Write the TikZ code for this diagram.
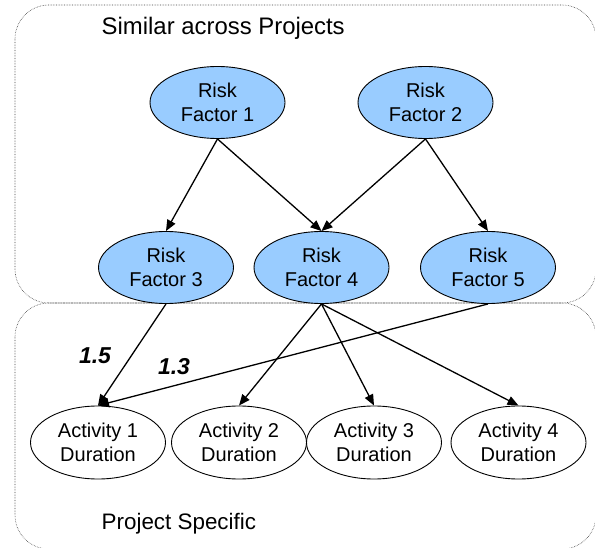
\documentclass[tikz,border=0pt]{standalone}
\usepackage{fontspec}
\setmainfont{Liberation Sans}
\usetikzlibrary{shapes.geometric,arrows.meta}
\definecolor{riskblue}{HTML}{99CCFF}
\tikzset{
  risk/.style={ellipse, draw=black, line width=0.9pt, fill=riskblue,
    minimum width=135pt, minimum height=72pt, inner sep=0pt, align=center,
    font=\fontsize{20}{24}\selectfont},
  activity/.style={ellipse, draw=black, line width=0.9pt, fill=white,
    minimum width=135pt, minimum height=73pt, inner sep=0pt, align=center,
    font=\fontsize{20}{24}\selectfont},
  region/.style={draw=black!75, densely dotted, line width=0.6pt, rounded corners=34pt},
  link/.style={draw=black, line width=1.3pt, -{Triangle[length=11pt,width=9pt]}},
  title/.style={anchor=base west, inner sep=0pt},
  weight/.style={font=\fontsize{23}{26}\selectfont\bfseries\itshape, inner sep=0pt, anchor=base}
}
\begin{document}
\begin{tikzpicture}[x=1pt,y=-1pt]
  \useasboundingbox (0,0) rectangle (595,548);
  % the two grouping areas
  \draw[region] (15,5) rectangle (596,303);
  \draw[region] (15,303) rectangle (596,549);
  \node[title, font=\fontsize{23.9}{26}\selectfont] (shared) at (101.5,35) {Similar across Projects};
  \node[title, font=\fontsize{22.4}{26}\selectfont] (specific) at (101.5,529) {Project Specific};

  % risk factors
  \node[risk] (rf1) at (217.5,102.5) {Risk\\Factor 1};
  \node[risk] (rf2) at (425.5,102.5) {Risk\\Factor 2};
  \node[risk] (rf3) at (166,267.5) {Risk\\Factor 3};
  \node[risk] (rf4) at (321.5,267.5) {Risk\\Factor 4};
  \node[risk] (rf5) at (488,267.5) {Risk\\Factor 5};

  % activity durations
  \node[activity] (a1) at (98,442.5) {Activity 1\\Duration};
  \node[activity] (a2) at (239,442.5) {Activity 2\\Duration};
  \node[activity] (a3) at (374,442.5) {Activity 3\\Duration};
  \node[activity] (a4) at (518.5,442.5) {Activity 4\\Duration};

  % dependencies
  \draw[link] (rf1.south) -- (rf3.north);
  \draw[link] (rf1.south) -- (rf4.north);
  \draw[link] (rf2.south) -- (rf4.north);
  \draw[link] (rf2.south) -- (rf5.north);
  \draw[link] (rf3.south) -- (a1.north);
  \draw[link] (rf5.south) -- (a1.north);
  \draw[link] (rf4.south) -- (a2.north);
  \draw[link] (rf4.south) -- (a3.north);
  \draw[link] (rf4.south) -- (a4.north);

  % weights
  \node[weight] (w15) at (95,363) {1.5};
  \node[weight] (w13) at (174,374) {1.3};
\end{tikzpicture}
\end{document}
